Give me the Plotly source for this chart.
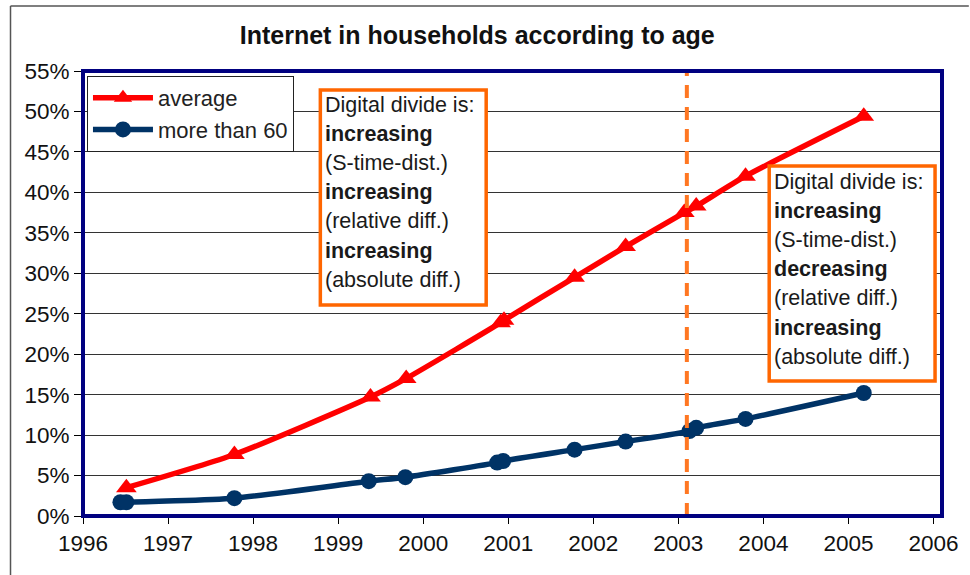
import plotly.graph_objects as go

# Survey dates (fractional years) and share of households with Internet
avg_years = [1996.51, 1997.78, 1999.38, 1999.80, 2000.91, 2000.95, 2001.78,
             2002.38, 2003.07, 2003.21, 2003.79, 2005.18]
avg_share = [0.035, 0.076, 0.147, 0.170, 0.239, 0.242, 0.295,
             0.333, 0.375, 0.383, 0.420, 0.494]

old_years = [1996.44, 1996.51, 1997.78, 1999.36, 1999.79, 2000.87, 2000.94,
             2001.78, 2002.38, 2003.13, 2003.21, 2003.79, 2005.18]
old_share = [0.017, 0.017, 0.022, 0.043, 0.048, 0.066, 0.068,
             0.082, 0.092, 0.105, 0.109, 0.120, 0.152]

year_ticks = list(range(1996, 2007))
pct_ticks = [i / 100 for i in range(0, 56, 5)]
divide_year = 2003.1

box_left = ["Digital divide is:", "<b>increasing</b>", "(S-time-dist.)",
            "<b>increasing</b>", "(relative diff.)", "<b>increasing</b>",
            "(absolute diff.)"]
box_right = ["Digital divide is:", "<b>increasing</b>", "(S-time-dist.)",
             "<b>decreasing</b>", "(relative diff.)", "<b>increasing</b>",
             "(absolute diff.)"]

W, H = 970, 575
ML, MR, MT, MB = 83, 22, 71, 59
PW, PH = W - ML - MR, H - MT - MB


def px(x):
    return (x - ML) / PW


def py(y):
    return (H - MB - y) / PH


FONT = "Liberation Sans, Arial, sans-serif"
RED = "#FF0000"
NAVY = "#003366"
ORANGE = "#FF6600"

fig = go.Figure()
fig.add_trace(go.Scatter(
    x=avg_years, y=avg_share, name="average", mode="lines+markers",
    line=dict(color=RED, width=5.5, shape="spline", smoothing=0.6),
    marker=dict(symbol="triangle-up", size=18, color=RED)))
fig.add_trace(go.Scatter(
    x=old_years, y=old_share, name="more than 60", mode="lines+markers",
    line=dict(color=NAVY, width=5.5, shape="spline", smoothing=0.6),
    marker=dict(symbol="circle", size=16, color=NAVY)))

shapes = []
# frame around the chart
shapes.append(dict(type="line", xref="paper", yref="paper",
                   x0=px(10), x1=px(975), y0=py(6), y1=py(6),
                   line=dict(color="#555555", width=1.5)))
shapes.append(dict(type="line", xref="paper", yref="paper",
                   x0=px(10), x1=px(10), y0=py(6), y1=py(580),
                   line=dict(color="#555555", width=1.5)))
# dashed marker line
shapes.append(dict(type="line", xref="x", yref="paper",
                   x0=divide_year, x1=divide_year, y0=0, y1=1,
                   line=dict(color="#FF7722", width=4, dash="13px,9px")))
# plot border
shapes.append(dict(type="rect", xref="paper", yref="paper",
                   x0=0, x1=1, y0=0, y1=1,
                   line=dict(color="#000080", width=4)))
# annotation boxes
for (x0, y0, x1, y1) in [(322, 90, 489, 305), (774, 166, 941, 381)]:
    shapes.append(dict(type="rect", xref="paper", yref="paper",
                       x0=px(x0), x1=px(x1), y0=py(y0), y1=py(y1),
                       fillcolor="white", line=dict(color=ORANGE, width=3.5),
                       layer="above"))

annotations = []
for lines, left, top in [(box_left, 325, 105), (box_right, 777, 182)]:
    for i, t in enumerate(lines):
        annotations.append(dict(
            text=t, xref="paper", yref="paper", x=px(left), y=py(top + i * 29.1),
            xanchor="left", yanchor="middle", showarrow=False,
            font=dict(family=FONT, size=21.5, color="#1a1a1a")))

fig.update_layout(
    width=W, height=H,
    margin=dict(l=ML, r=MR, t=MT, b=MB),
    paper_bgcolor="white", plot_bgcolor="white",
    title=dict(text="<b>Internet in households according to age</b>",
               x=px(480), xanchor="center", xref="paper",
               y=1 - 35 / H, yanchor="middle",
               font=dict(family=FONT, size=25, color="#111111")),
    font=dict(family=FONT, size=22.5, color="#111111"),
    xaxis=dict(range=[1996, 2006.1], tickvals=year_ticks,
               ticktext=[str(y) for y in year_ticks],
               showgrid=False, zeroline=False, ticks="outside", ticklen=7,
               tickcolor="black", tickwidth=1.2, showline=False),
    yaxis=dict(range=[0, 0.55], tickvals=pct_ticks, tickformat=".0%",
               showgrid=True, gridcolor="#333333", gridwidth=1,
               zeroline=False, ticks="outside", ticklen=8,
               tickcolor="black", tickwidth=1.2, showline=False),
    legend=dict(x=px(87), y=py(76), xanchor="left", yanchor="top",
                bgcolor="white", bordercolor="#222222", borderwidth=1,
                font=dict(family=FONT, size=22, color="#222222"),
                tracegroupgap=0, itemwidth=60),
    shapes=shapes,
    annotations=annotations,
)

fig.write_html("out.html")
